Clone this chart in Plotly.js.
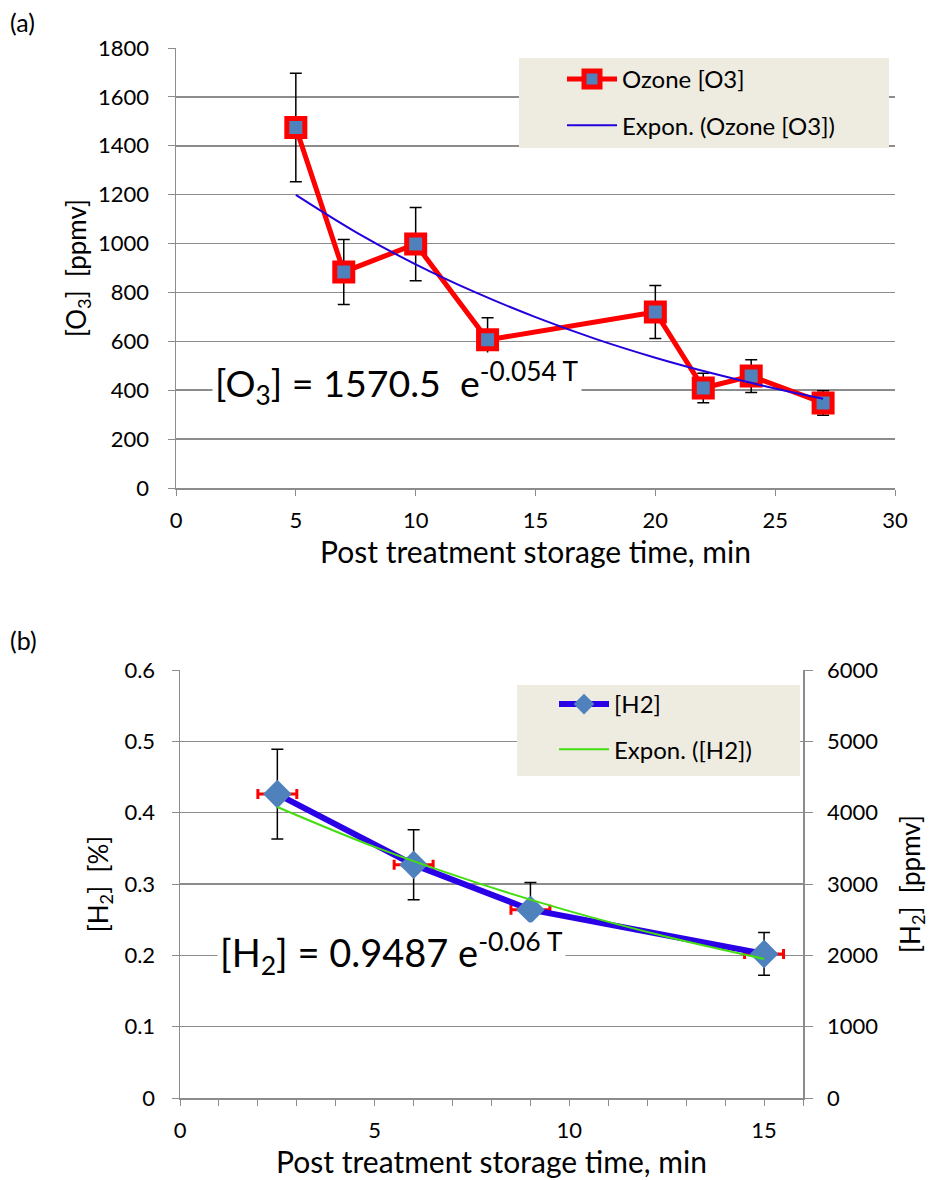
<!DOCTYPE html>
<html><head><meta charset="utf-8">
<script src="https://cdn.plot.ly/plotly-3.0.1.min.js"></script>
<style>html,body{margin:0;padding:0;background:#fff}</style>
</head><body><div id="chart" style="width:929px;height:1180px"></div>
<script>
// ---- panel (a): ozone ----
const o3Time = [5, 7, 10, 13, 20, 22, 24, 27];
const o3Ppmv = [1475, 884, 998, 606, 720, 409, 458, 348];
const o3Err = [222, 133, 150, 90, 108, 60, 67, 50];
const o3TrendTime = [5, 7.5, 10, 12.5, 15, 17.5, 20, 22.5, 25, 27];
const o3TrendPpmv = [1199, 1047, 915, 800, 699, 610, 533, 466, 407, 365];
const o3XTicks = [0, 5, 10, 15, 20, 25, 30];
const o3YTicks = [0, 200, 400, 600, 800, 1000, 1200, 1400, 1600, 1800];

// ---- panel (b): hydrogen ----
const h2Time = [2.5, 6, 9, 15];
const h2Pct = [0.426, 0.327, 0.264, 0.202];
const h2Ppmv = [4260, 3270, 2640, 2020];
const h2ErrY = [0.063, 0.049, 0.038, 0.030];
const h2ErrX = [0.5, 0.5, 0.5, 0.5];
const h2TrendTime = [2.5, 5, 7.5, 10, 12.5, 15];
const h2TrendPct = [0.408, 0.352, 0.304, 0.262, 0.226, 0.195];
const h2XTicks = [0, 5, 10, 15];
const h2YTicks = [0, 0.1, 0.2, 0.3, 0.4, 0.5, 0.6];
const h2YPpmvTicks = [0, 1000, 2000, 3000, 4000, 5000, 6000];

const FONT = 'Lato, "Open Sans", sans-serif';
const GRID = '#8c8c8c';
const W = 929, H = 1180;
const px = v => v / W;
const py = v => 1 - v / H;

const data = [
  {
    x: o3Time, y: o3Ppmv, xaxis: 'x', yaxis: 'y', name: 'Ozone [O3]', legend: 'legend', legendgroup: 'a1',
    mode: 'lines+markers',
    line: {color: '#ff0000', width: 5},
    marker: {symbol: 'square', size: 18, color: '#4f81bd', line: {color: '#ff0000', width: 5}},
    error_y: {type: 'data', array: o3Err, visible: true, color: '#000000', thickness: 1.5, width: 6}
  },
  {
    x: o3TrendTime, y: o3TrendPpmv, xaxis: 'x', yaxis: 'y', name: 'Expon. (Ozone [O3])', legend: 'legend', legendgroup: 'a2',
    mode: 'lines', line: {color: '#2200dd', width: 2, shape: 'spline'}
  },
  {
    x: h2Time, y: h2Ppmv, xaxis: 'x2', yaxis: 'y3', name: '[H2] ppmv', showlegend: false,
    mode: 'markers', marker: {opacity: 0, size: 1}, hoverinfo: 'skip'
  },
  {
    x: h2Time, y: h2Pct, xaxis: 'x2', yaxis: 'y2', name: '[H2]', legend: 'legend2', legendgroup: 'b1',
    mode: 'lines+markers',
    line: {color: '#2a00e6', width: 6},
    marker: {symbol: 'diamond', size: 22, color: '#4f81bd', line: {width: 0}},
    error_y: {type: 'data', array: h2ErrY, visible: true, color: '#000000', thickness: 1.5, width: 6},
    error_x: {type: 'data', array: h2ErrX, visible: true, color: '#ff0000', thickness: 3, width: 5}
  },
  {
    x: h2TrendTime, y: h2TrendPct, xaxis: 'x2', yaxis: 'y2', name: 'Expon. ([H2])', legend: 'legend2', legendgroup: 'b2',
    mode: 'lines', line: {color: '#44dd11', width: 2, shape: 'spline'}
  }
];

const tickFont = {family: FONT, size: 22, color: '#000'};

const layout = {
  width: W, height: H,
  margin: {l: 0, r: 0, t: 0, b: 0},
  paper_bgcolor: '#fff', plot_bgcolor: '#fff',
  font: {family: FONT, color: '#000'},
  showlegend: true,
  xaxis: {
    domain: [px(176), px(895)], anchor: 'y', range: [0, 30],
    tickvals: o3XTicks, ticks: 'outside', ticklen: 6, tickcolor: GRID, ticklabelstandoff: 6,
    showgrid: false, zeroline: false, showline: true, linecolor: GRID, linewidth: 1.5,
    tickfont: tickFont,
    title: {text: 'Post treatment storage time, min', font: {family: FONT, size: 30}, standoff: 0}
  },
  yaxis: {
    domain: [py(488), py(48)], anchor: 'x', range: [0, 1800],
    tickvals: o3YTicks, ticks: 'outside', ticklen: 7, tickcolor: GRID, ticklabelstandoff: 14,
    showgrid: true, gridcolor: GRID, gridwidth: 1.5, zeroline: false,
    showline: true, linecolor: GRID, linewidth: 1.5,
    tickfont: tickFont,
    title: {text: '[O<sub>3</sub>]&nbsp;&nbsp;[ppmv]', font: {family: FONT, size: 26}, standoff: 4}
  },
  xaxis2: {
    domain: [px(180), px(803)], anchor: 'y2', range: [0, 16],
    tickvals: h2XTicks, ticks: 'outside', ticklen: 6, tickcolor: GRID, ticklabelstandoff: 6,
    minor: {dtick: 1, tick0: 0, ticks: 'outside', ticklen: 6, tickcolor: GRID, showgrid: false},
    showgrid: false, zeroline: false, showline: true, linecolor: GRID, linewidth: 1.5,
    tickfont: tickFont,
    title: {text: 'Post treatment storage time, min', font: {family: FONT, size: 30}, standoff: 0}
  },
  yaxis2: {
    domain: [py(1098), py(670)], anchor: 'x2', range: [0, 0.6],
    tickvals: h2YTicks, ticktext: h2YTicks.map(String), ticks: 'outside', ticklen: 7, tickcolor: GRID,
    ticklabelstandoff: 12,
    showgrid: true, gridcolor: GRID, gridwidth: 1.5, zeroline: false,
    showline: true, linecolor: GRID, linewidth: 1.5,
    tickfont: tickFont,
    title: {text: '[H<sub>2</sub>]&nbsp;&nbsp;[%]', font: {family: FONT, size: 26}, standoff: 8}
  },
  yaxis3: {
    overlaying: 'y2', anchor: 'x2', side: 'right', range: [0, 6000],
    tickvals: h2YPpmvTicks, ticks: 'outside', ticklen: 8, tickcolor: GRID, ticklabelstandoff: 10,
    showgrid: false, zeroline: false, showline: true, linecolor: GRID, linewidth: 1.5,
    tickfont: tickFont,
    title: {text: '[H<sub>2</sub>]&nbsp;&nbsp;[ppmv]', font: {family: FONT, size: 26}, standoff: 26}
  },
  legend: {
    x: px(562), y: py(57), xanchor: 'left', yanchor: 'top',
    bgcolor: 'rgba(0,0,0,0)', font: {family: FONT, size: 24},
    traceorder: 'grouped', tracegroupgap: 12, itemwidth: 50
  },
  legend2: {
    x: px(554), y: py(682), xanchor: 'left', yanchor: 'top',
    bgcolor: 'rgba(0,0,0,0)', font: {family: FONT, size: 24},
    traceorder: 'grouped', tracegroupgap: 11, itemwidth: 50
  },
  shapes: [
    {type: 'rect', xref: 'paper', yref: 'paper', x0: px(519), x1: px(889), y0: py(148), y1: py(58),
     fillcolor: '#eeebe0', line: {width: 0}, layer: 'above'},
    {type: 'rect', xref: 'paper', yref: 'paper', x0: px(517), x1: px(800), y0: py(776), y1: py(685),
     fillcolor: '#eeebe0', line: {width: 0}, layer: 'above'}
  ],
  annotations: [
    {text: '(a)', xref: 'paper', yref: 'paper', x: px(8), y: py(22), xanchor: 'left', yanchor: 'middle',
     showarrow: false, font: {family: FONT, size: 25}},
    {text: '(b)', xref: 'paper', yref: 'paper', x: px(8), y: py(640), xanchor: 'left', yanchor: 'middle',
     showarrow: false, font: {family: FONT, size: 25}},
    {text: '[O<sub>3</sub>] = 1570.5&nbsp;&nbsp;e<sup>-0.054 T</sup>', xref: 'paper', yref: 'paper',
     x: px(212), y: py(383), xanchor: 'left', yanchor: 'middle', showarrow: false,
     bgcolor: '#ffffff', borderpad: 2, font: {family: FONT, size: 37.5}},
    {text: '[H<sub>2</sub>] = 0.9487 e<sup>-0.06 T</sup>', xref: 'paper', yref: 'paper',
     x: px(217), y: py(953), xanchor: 'left', yanchor: 'middle', showarrow: false,
     bgcolor: '#ffffff', borderpad: 2, font: {family: FONT, size: 38}}
  ]
};

Plotly.newPlot('chart', data, layout, {displayModeBar: false, staticPlot: true});
</script>
</body></html>
